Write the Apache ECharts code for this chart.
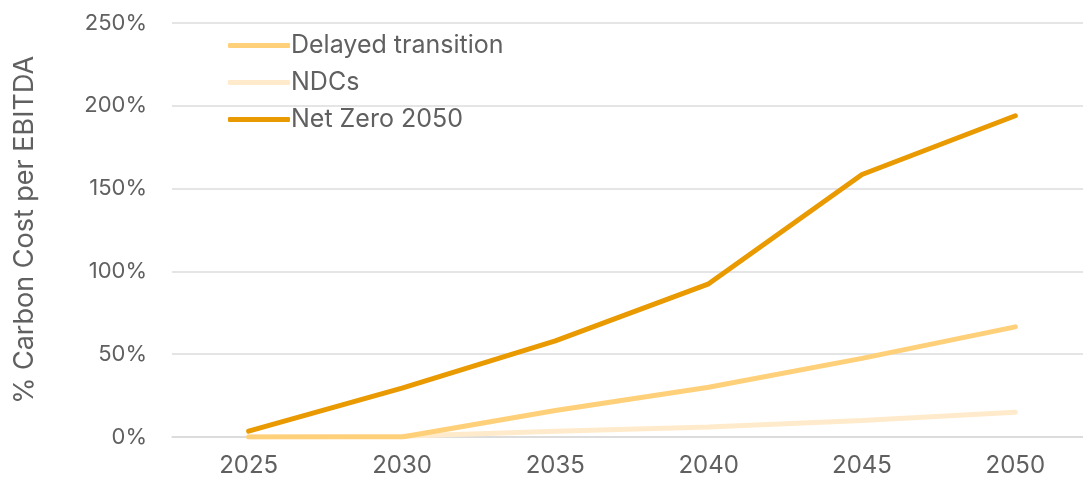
<!DOCTYPE html>
<html><head><meta charset="utf-8">
<script src="https://cdn.jsdelivr.net/npm/echarts@6/dist/echarts.min.js"></script>
<style>html,body{margin:0;padding:0;background:#fff}#c{width:1083px;height:483px}</style>
</head><body><div id="c"></div>
<script>
const years = ['2025','2030','2035','2040','2045','2050'];
const delayed = [0, 0, 16, 30, 47.5, 66.5];
const ndcs = [0, 0.5, 3.5, 6, 10, 15];
const netZero = [3.5, 29.5, 58, 92.5, 158.5, 194];
const yTicks = [0, 50, 100, 150, 200, 250];

const chart = echarts.init(document.getElementById('c'));
const font = 'Inter, Roboto, "Noto Sans", sans-serif';
chart.setOption({
  animation: false,
  legend: {
    orient: 'vertical', left: 223, top: 28, itemWidth: 62, itemHeight: 5, itemGap: 12,
    icon: 'roundRect',
    textStyle: {fontFamily: font, fontSize: 25, color: '#606060', padding: [0,0,0,-4]},
    data: ['Delayed transition', 'NDCs', 'Net Zero 2050']
  },
  grid: {left: 172, width: 920, top: 23, bottom: 46, outerBoundsMode: 'none', containLabel: false},
  xAxis: {
    type: 'category', data: years, boundaryGap: true,
    axisLine: {lineStyle: {color: '#d9d9d9', width: 1.5}},
    axisTick: {show: false},
    axisLabel: {fontFamily: font, fontSize: 24, color: '#606060', margin: 17}
  },
  yAxis: {
    type: 'value', min: yTicks[0], max: yTicks[yTicks.length-1], interval: 50,
    name: '% Carbon Cost per EBITDA', nameLocation: 'middle', nameGap: 134, nameRotate: 90,
    nameTextStyle: {fontFamily: font, fontSize: 27, color: '#606060'},
    axisLine: {show: false}, axisTick: {show: false},
    axisLabel: {fontFamily: font, fontSize: 22, color: '#606060', margin: 25, formatter: v => v + '%'},
    splitLine: {lineStyle: {color: '#dcdcdc', width: 1.5}}
  },
  series: [
    {name: 'Delayed transition', type: 'line', data: delayed, symbol: 'none', z: 3,
     lineStyle: {width: 5, color: '#FFD07A', cap: 'round'}, itemStyle: {color: '#FFD07A'}},
    {name: 'NDCs', type: 'line', data: ndcs, symbol: 'none', z: 2,
     lineStyle: {width: 5, color: '#FFEBCB', cap: 'round'}, itemStyle: {color: '#FFEBCB'}},
    {name: 'Net Zero 2050', type: 'line', data: netZero, symbol: 'none', z: 4,
     lineStyle: {width: 5, color: '#E99A00', cap: 'round'}, itemStyle: {color: '#E99A00'}}
  ]
});
</script></body></html>
